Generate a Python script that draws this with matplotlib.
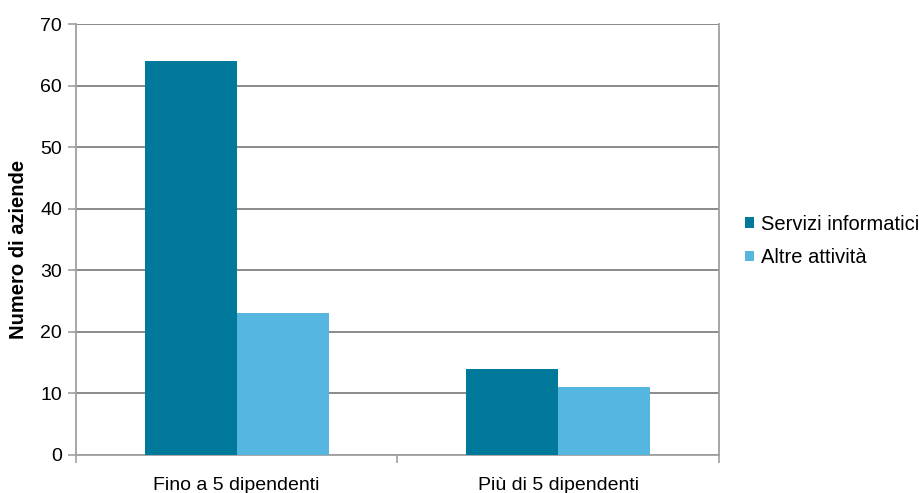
import matplotlib.pyplot as plt
import numpy as np

plt.rcParams['font.family'] = ['Liberation Sans', 'DejaVu Sans']

categorie = ['Fino a 5 dipendenti', 'Più di 5 dipendenti']
servizi_informatici = [64, 14]
altre_attivita = [23, 11]
serie = ['Servizi informatici', 'Altre attività']
colori = ['#00799a', '#55b7e0']

fig = plt.figure(figsize=(9.2, 4.93), dpi=100)
ax = fig.add_axes([0.0826, 0.0771, 0.6989, 0.8742])

x = np.arange(len(categorie))
w = 0.286
ax.bar(x - w / 2, servizi_informatici, w, color=colori[0], label=serie[0], zorder=3)
ax.bar(x + w / 2, altre_attivita, w, color=colori[1], label=serie[1], zorder=3)

ax.set_xlim(-0.5, 1.5)
ax.set_ylim(0, 70)
ax.set_yticks(range(0, 71, 10))
ax.yaxis.grid(True, color='#8a8a8a', linewidth=1.4, zorder=0)

# tick marks sit between the categories, labels in the middle
ax.set_xticks([-0.5, 0.5, 1.5])
ax.set_xticklabels([])
ax.set_xticks(x, minor=True)
ax.set_xticklabels(categorie, minor=True, fontsize=14)
ax.tick_params(axis='x', which='minor', length=0, pad=16)
ax.tick_params(axis='x', which='major', length=6, color='#a0a0a0', width=1.2)
ax.tick_params(axis='y', length=6, color='#a0a0a0', width=1.2, labelsize=14, pad=4)

for s in ['left', 'right', 'bottom']:
    ax.spines[s].set_color('#a0a0a0')
    ax.spines[s].set_linewidth(1.3)
ax.spines['top'].set_visible(False)

ax.set_ylabel('Numero di aziende', fontsize=14.5, fontweight='bold')
ax.yaxis.set_label_coords(-0.074, 0.476)

ax.legend(loc='center left', bbox_to_anchor=(0.801, 0.511),
          bbox_transform=fig.transFigure, borderaxespad=0, frameon=False,
          fontsize=14.5, handlelength=0.45, handleheight=0.45, handletextpad=0.35,
          labelspacing=0.7)

fig.savefig('out.png', dpi=100)
